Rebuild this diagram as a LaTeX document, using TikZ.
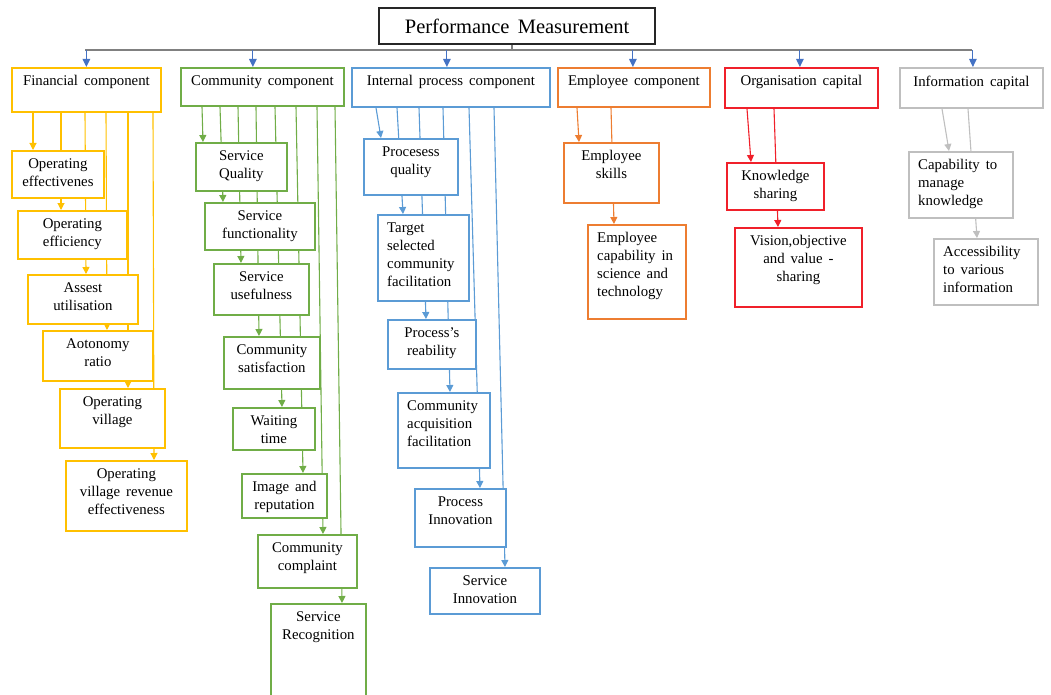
\documentclass[tikz,border=0pt]{standalone}
\usepackage{fontspec}
\setmainfont{Liberation Serif}[WordSpace=1.6]
\usetikzlibrary{arrows.meta,backgrounds}
\definecolor{cfin}{HTML}{FFC000}
\definecolor{ccom}{HTML}{70AD47}
\definecolor{cint}{HTML}{5B9BD5}
\definecolor{cemp}{HTML}{ED7D31}
\definecolor{corg}{HTML}{F0202A}
\definecolor{cinf}{HTML}{BFBFBF}
\definecolor{cbus}{HTML}{808080}
\definecolor{carr}{HTML}{4472C4}
\newcommand\cbox[7]{\node[box,draw=#2,minimum width={#5-#3},minimum height={#6-#4},label={[ctxt,name=#1t]north:{#7}}] (#1) at (#3,#4) {};}
\newcommand\lbox[7]{\node[box,draw=#2,minimum width={#5-#3},minimum height={#6-#4},label={[ltxt,name=#1t]north west:{#7}}] (#1) at (#3,#4) {};}
\newcommand\lnk[5]{\draw[conn,draw=#1] ([xshift=#3pt]#2.south west) -- ([xshift=#5pt]#4.north west);}
\newcommand\busarr[2]{\draw[busarrow] ([xshift=#2pt]#1.north |- busL) -- ([xshift=#2pt]#1.north);}
\begin{document}
\begin{tikzpicture}[x=1pt,y=-1pt,
  box/.style={line width=1.8pt, fill=white, anchor=north west, inner sep=0pt},
  ctxt/.style={anchor=north, yshift=-8.5pt, align=center, inner sep=0pt, font=\fontsize{14.8}{18}\selectfont},
  ltxt/.style={anchor=north west, xshift=10pt, yshift=-8.5pt, align=left, inner sep=0pt, font=\fontsize{14.8}{18}\selectfont},
  conn/.style={line width=1.1pt, -{Triangle[width=7pt,length=7pt]}},
  busarrow/.style={draw=carr, line width=1.1pt, -{Triangle[width=7.5pt,length=8pt]}},
  topbox/.style={draw=black!85, line width=2.2pt, fill=white, anchor=north west, inner sep=0pt, minimum width=276, minimum height=36, font=\fontsize{20.5}{24}\selectfont}
]
\useasboundingbox (0,0) rectangle (1051,695);
\clip (0,0) rectangle (1051,695);

\node[topbox] (top) at (378,7) {Performance Measurement};

% component boxes
\cbox{fin}{cfin}{11}{67}{160}{111}{Financial component}
\cbox{comm}{ccom}{180}{67}{343}{105}{Community component}
\cbox{int}{cint}{351}{67}{549}{106}{Internal process component}
\cbox{emp}{cemp}{557}{67}{709}{106}{Employee component}
\cbox{org}{corg}{724}{67}{877}{107}{Organisation capital}
\cbox{info}{cinf}{899}{67}{1042}{107}{Information capital}

% financial
\cbox{f1}{cfin}{11}{150}{103}{197}{Operating\\effectivenes}
\cbox{f2}{cfin}{17}{210}{126}{258}{Operating\\efficiency}
\cbox{f3}{cfin}{27}{274}{137}{323}{Assest\\utilisation}
\cbox{f4}{cfin}{42}{330}{152}{380}{Aotonomy\\ratio}
\cbox{f5}{cfin}{59}{388}{164}{447}{Operating\\village}
\cbox{f6}{cfin}{65}{460}{186}{530}{Operating\\village revenue\\effectiveness}

% community
\cbox{c1}{ccom}{195}{142}{286}{190}{Service\\Quality}
\cbox{c2}{ccom}{204}{202}{314}{249}{Service\\functionality}
\cbox{c3}{ccom}{213}{263}{308}{314}{Service\\usefulness}
\cbox{c4}{ccom}{223}{336}{319}{388}{Community\\satisfaction}
\cbox{c5}{ccom}{232}{407}{314}{449}{Waiting\\time}
\cbox{c6}{ccom}{241}{473}{326}{517}{Image and\\reputation}
\cbox{c7}{ccom}{257}{534}{356}{587}{Community\\complaint}
\cbox{c8}{ccom}{270}{603}{365}{705}{Service\\Recognition}

% internal process
\cbox{i1}{cint}{363}{138}{457}{194}{Procesess\\quality}
\lbox{i2}{cint}{377}{214}{468}{300}{Target\\selected\\community\\facilitation}
\cbox{i3}{cint}{387}{319}{475}{368}{Process's\\reability}
\lbox{i4}{cint}{397}{392}{489}{467}{Community\\acquisition\\facilitation}
\cbox{i5}{cint}{414}{488}{505}{546}{Process\\Innovation}
\cbox{i6}{cint}{429}{567}{539}{613}{Service\\Innovation}

% employee
\cbox{e1}{cemp}{563}{142}{658}{202}{Employee\\skills}
\lbox{e2}{cemp}{587}{224}{685}{318}{Employee\\capability in\\science and\\technology}

% organisation
\cbox{o1}{corg}{726}{162}{823}{209}{Knowledge\\sharing}
\cbox{o2}{corg}{734}{227}{861}{306}{Vision,objective\\and value -\\sharing}

% information
\lbox{n1}{cinf}{908}{151}{1012}{217}{Capability to\\manage\\knowledge}
\lbox{n2}{cinf}{933}{238}{1037}{304}{Accessibility\\to various\\information}

% bus
\coordinate (busL) at (85,50);
\coordinate (busR) at (972,50);
\draw[draw=cbus, line width=1.3pt] (busL) -- (busR);
\draw[draw=cbus, line width=1.3pt] ([xshift=-5pt]top.south) -- ([xshift=-5pt]top.south |- busL);
\busarr{fin}{0}
\busarr{comm}{-9.5}
\busarr{int}{-4}
\busarr{emp}{-1}
\busarr{org}{-1.5}
\busarr{info}{1.5}

\begin{scope}[on background layer]
\lnk{cfin}{fin}{22}{f1}{22}
\lnk{cfin}{fin}{50}{f2}{44}
\lnk{cfin}{fin}{74}{f3}{59}
\lnk{cfin}{fin}{95}{f4}{65}
\lnk{cfin}{fin}{117}{f5}{69}
\lnk{cfin}{fin}{142}{f6}{89}

\lnk{ccom}{comm}{22}{c1}{8}
\lnk{ccom}{comm}{40}{c2}{19}
\lnk{ccom}{comm}{58}{c3}{28}
\lnk{ccom}{comm}{76}{c4}{36}
\lnk{ccom}{comm}{95}{c5}{50}
\lnk{ccom}{comm}{116}{c6}{62}
\lnk{ccom}{comm}{137}{c7}{66}
\lnk{ccom}{comm}{155}{c8}{72}

\lnk{cint}{int}{25}{i1}{18}
\lnk{cint}{int}{46}{i2}{26}
\lnk{cint}{int}{68}{i3}{39}
\lnk{cint}{int}{92}{i4}{53}
\lnk{cint}{int}{118}{i5}{66}
\lnk{cint}{int}{143}{i6}{76}

\lnk{cemp}{emp}{20}{e1}{16}
\lnk{cemp}{emp}{54}{e2}{27}

\lnk{corg}{org}{23}{o1}{25}
\lnk{corg}{org}{50}{o2}{44}

\lnk{cinf}{info}{43}{n1}{41}
\lnk{cinf}{info}{69}{n2}{44}
\end{scope}
\end{tikzpicture}
\end{document}
